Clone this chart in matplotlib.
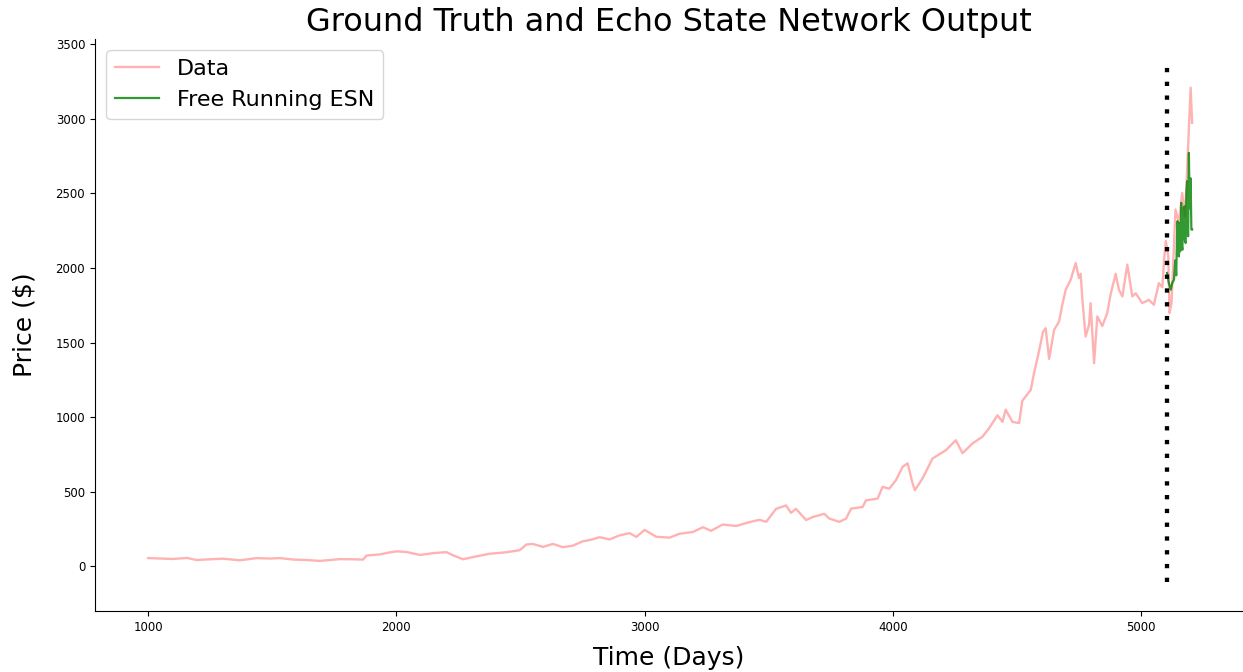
import numpy as np
import matplotlib.pyplot as plt

# closing price by trading day
days = [1000, 1050, 1100, 1156, 1196, 1250, 1302, 1370, 1437, 1490, 1531, 1585,
        1640, 1692, 1735, 1773, 1820, 1866, 1880, 1934, 1970, 2001, 2041, 2095,
        2148, 2202, 2228, 2269, 2309, 2376, 2443, 2497, 2524, 2550, 2591, 2631,
        2671, 2711, 2752, 2785, 2819, 2859, 2899, 2940, 2967, 3000, 3047, 3101,
        3141, 3195, 3235, 3268, 3315, 3369, 3423, 3463, 3490, 3530, 3570, 3590,
        3610, 3651, 3677, 3704, 3724, 3744, 3785, 3812, 3832, 3879, 3892, 3939,
        3959, 3986, 4013, 4040, 4060, 4080, 4089, 4120, 4160, 4214, 4254, 4281,
        4321, 4361, 4388, 4422, 4442, 4455, 4482, 4509, 4522, 4556, 4569, 4589,
        4605, 4616, 4630, 4650, 4670, 4683, 4697, 4717, 4737, 4750, 4757, 4764,
        4777, 4791, 4797, 4811, 4824, 4844, 4864, 4878, 4898, 4911, 4925, 4945,
        4965, 4979, 5005, 5032, 5052, 5072, 5086, 5093, 5100, 5110, 5115, 5123,
        5139, 5153, 5166, 5177, 5186, 5200, 5206]
price = [55, 52, 49, 56, 42, 47, 51, 40, 55, 52, 55, 45,
         42, 36, 42, 48, 47, 45, 72, 80, 92, 100, 96, 76,
         88, 95, 74, 47, 62, 84, 94, 108, 146, 150, 130, 150,
         128, 138, 168, 178, 195, 180, 207, 222, 197, 244, 198, 192,
         218, 230, 262, 238, 280, 270, 296, 312, 298, 385, 408, 358,
         385, 310, 330, 342, 352, 320, 298, 320, 386, 398, 442, 454,
         532, 520, 578, 667, 690, 555, 510, 589, 722, 778, 845, 758,
         823, 868, 925, 1012, 968, 1050, 968, 960, 1110, 1182, 1294, 1440,
         1570, 1596, 1390, 1585, 1640, 1753, 1854, 1921, 2033, 1932, 1960, 1786,
         1540, 1620, 1764, 1361, 1675, 1610, 1697, 1825, 1960, 1854, 1809, 2022,
         1809, 1830, 1764, 1786, 1753, 1898, 1870, 2055, 2180, 2077, 1697, 1764,
         2391, 2301, 2503, 2346, 2659, 3208, 2973]

# free running ESN prediction after the training cutoff
esn_days = [5105, 5112, 5120, 5126, 5133, 5138, 5142, 5145, 5147, 5150, 5153,
            5155, 5157, 5160, 5162, 5164, 5167, 5169, 5172, 5175, 5177, 5180,
            5183, 5186, 5188, 5190, 5193, 5196, 5200, 5203, 5206]
esn_price = [1966, 1900, 1854, 1900, 1921, 2050, 1950, 2200, 2313, 2100, 2077,
             2300, 2110, 2120, 2436, 2150, 2122, 2400, 2200, 2413, 2180, 2167,
             2500, 2581, 2250, 2212, 2771, 2400, 2600, 2257, 2257]

cutoff = 5105
cut_lo, cut_hi = -107, 3365

fig = plt.figure(figsize=(12.43, 6.72), dpi=100)
ax = fig.add_axes([0.0764, 0.0907, 0.9236, 0.8512])

ax.plot(days, price, color='r', alpha=0.3, lw=1.7, label="Data")
ax.plot(esn_days, esn_price, color='g', alpha=0.8, lw=1.6, label="Free Running ESN")
ax.vlines(cutoff, cut_lo, cut_hi, colors='k', lw=3.1, linestyles=(0, (1, 2.2)))

ax.set_xlim(786, 5411)
ax.set_ylim(-300, 3534)
ax.spines['top'].set_visible(False)
ax.spines['right'].set_visible(False)
ax.tick_params(labelsize=8.5)

ax.set_title("Ground Truth and Echo State Network Output", fontsize=23)
ax.set_xlabel("Time (Days)", fontsize=18, labelpad=9)
ax.set_ylabel("Price ($)", fontsize=18, labelpad=14)
ax.legend(loc='upper left', fontsize=16)

fig.savefig("out.png", dpi=100)
